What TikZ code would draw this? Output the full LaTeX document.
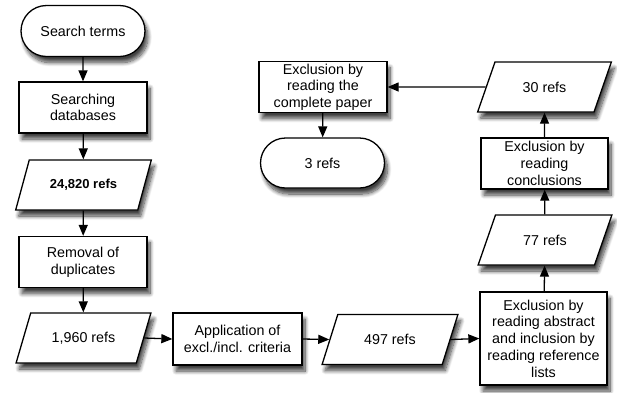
\documentclass[tikz,border=0pt]{standalone}
\usepackage{fontspec}
\setmainfont{Liberation Sans}
\usetikzlibrary{shapes.geometric,shapes.misc,arrows.meta,shadows.blur}
\begin{document}
\begin{tikzpicture}[x=1pt,y=-1pt,
  base/.style={draw=black,line width=1.3pt,fill=white,align=center,
    font=\fontsize{14.3}{16.7}\selectfont,inner sep=2pt,
    blur shadow={shadow xshift=3pt,shadow yshift=-6pt,shadow blur radius=4pt,shadow blur steps=10,shadow opacity=75}},
  procbox/.style={base,rectangle,minimum width=128pt,minimum height=51pt},
  termbox/.style={base,rounded rectangle,minimum width=128pt,minimum height=51pt},
  databox/.style={base,trapezium,trapezium left angle=60,trapezium right angle=120,
    trapezium stretches=true,minimum width=136pt,minimum height=50pt},
  conn/.style={line width=1.3pt,-{Triangle[length=11pt,width=9pt]}}]
\useasboundingbox (0,0) rectangle (617,392);
\node[termbox] (search) at (83,31) {Search terms};
\node[procbox] (searching) at (83,107.5) {Searching\\databases};
\node[databox] (p24820) at (83.5,185) {\fontsize{13}{15}\selectfont\bfseries 24,820 refs};
\node[procbox] (removal) at (83,262) {Removal of\\duplicates};
\node[databox] (p1960) at (83.5,338) {1,960 refs};
\node[procbox,minimum width=129pt,minimum height=52pt] (apply) at (237.5,339) {Application of\\excl./incl. criteria};
\node[databox] (p497) at (390,339.5) {497 refs};
\node[procbox,minimum width=127pt,minimum height=93pt] (abstract) at (543.5,338.5) {Exclusion by\\reading abstract\\and inclusion by\\reading reference\\lists};
\node[databox,minimum width=134pt] (p77) at (545,240) {77 refs};
\node[procbox,minimum width=127pt] (concl) at (544.5,163.5) {Exclusion by\\reading\\conclusions};
\node[databox,minimum width=134pt] (p30) at (544.5,87) {30 refs};
\node[procbox] (complete) at (323,87) {Exclusion by\\reading the\\complete paper};
\node[termbox,minimum height=50pt] (refs3) at (322.5,163) {3 refs};
\draw[conn] (search) -- (searching);
\draw[conn] (searching) -- (p24820);
\draw[conn] (p24820) -- (removal);
\draw[conn] (removal) -- (p1960);
\draw[conn] (p1960.east) -- (apply.west);
\draw[conn] (apply.east) -- (p497.west);
\draw[conn] (p497.east) -- (abstract.west);
\draw[conn] (abstract) -- (p77);
\draw[conn] (p77) -- (concl);
\draw[conn] (concl) -- (p30);
\draw[conn] (p30.west) -- (complete.east);
\draw[conn] (complete) -- (refs3);
\end{tikzpicture}
\end{document}
